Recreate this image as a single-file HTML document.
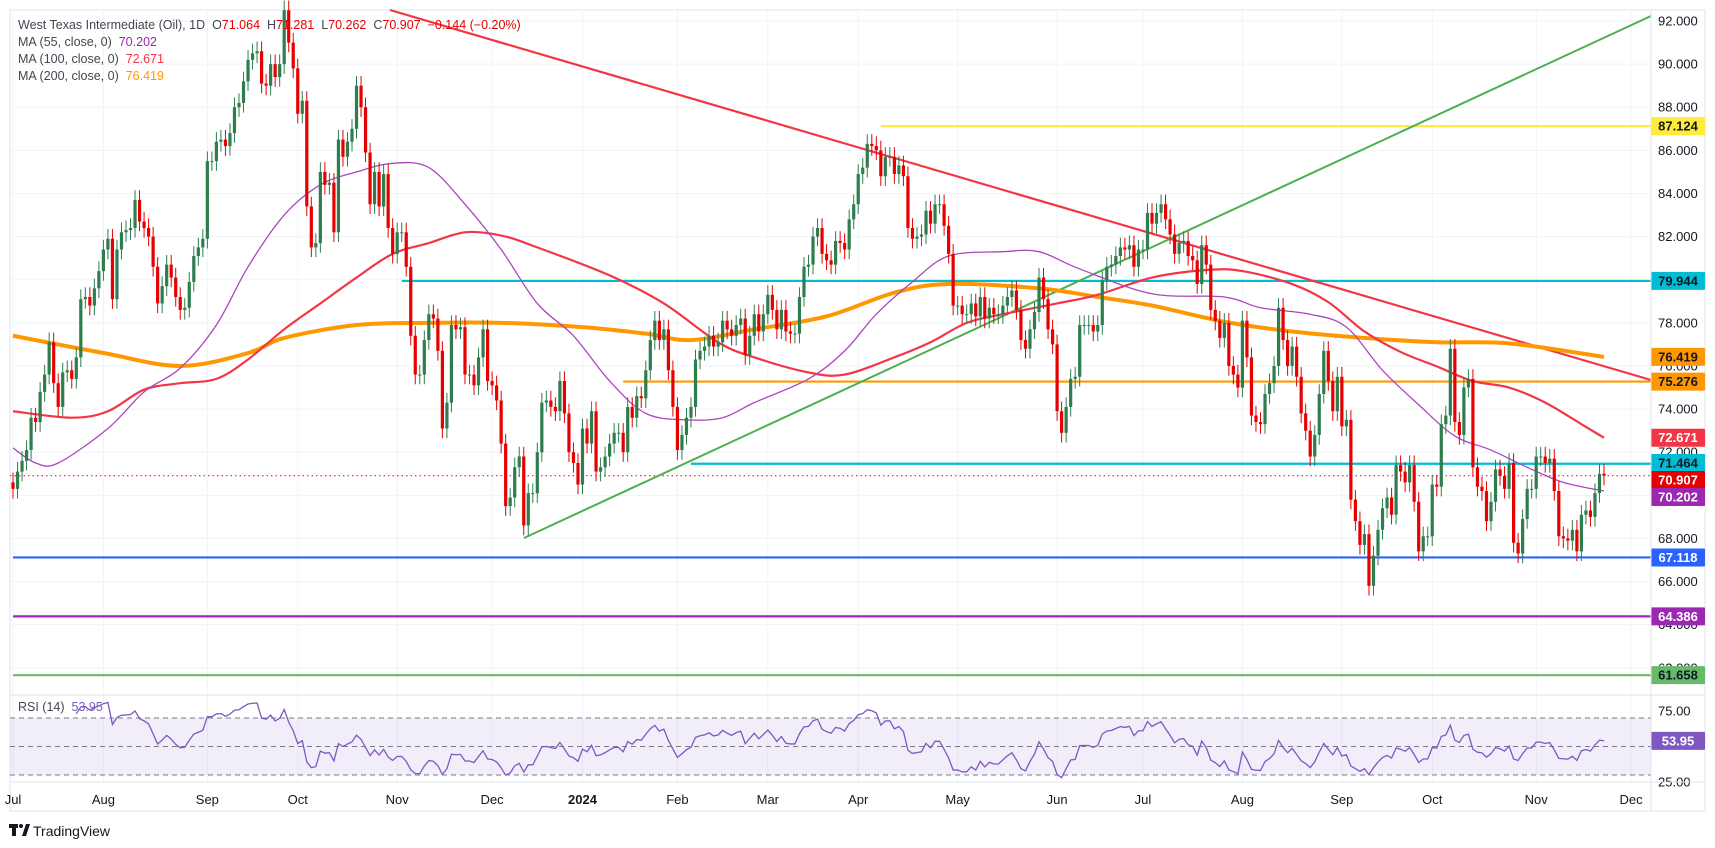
<!DOCTYPE html>
<html><head><meta charset="utf-8"><style>
html,body{margin:0;padding:0;background:#fff;}
svg{display:block;font-family:"Liberation Sans",sans-serif;}
</style></head><body>
<svg id="chart" width="1715" height="848" viewBox="0 0 1715 848" xmlns="http://www.w3.org/2000/svg">
<rect x="0" y="0" width="1715" height="848" fill="#ffffff"/>
<rect x="10" y="10" width="1695" height="801" fill="#fff" stroke="#e0e3eb" stroke-width="1"/>
<g id="grid"></g>
<rect x="10" y="718" width="1641" height="57" fill="rgba(126,87,194,0.1)"/>
<g id="levels"></g>
<g id="mas"></g>
<g id="candles"></g>
<g id="rsi"></g>
<g id="axis"></g>
<g id="labels"></g>
<line x1="10" y1="695" x2="1705" y2="695" stroke="#e0e3eb"/>
<line x1="10" y1="782" x2="1705" y2="782" stroke="#e0e3eb"/>
<line x1="1651" y1="10" x2="1651" y2="811" stroke="#e0e3eb"/>
<g font-size="12.5">
<text x="18" y="29" fill="#434651" xml:space="preserve">West Texas Intermediate (Oil), 1D  <tspan>O</tspan><tspan fill="#e60000">71.064</tspan>  <tspan>H</tspan><tspan fill="#e60000">71.281</tspan>  <tspan>L</tspan><tspan fill="#e60000">70.262</tspan>  <tspan>C</tspan><tspan fill="#e60000">70.907</tspan>  <tspan fill="#e60000">−0.144 (−0.20%)</tspan></text>
<text x="18" y="46" fill="#434651" xml:space="preserve">MA (55, close, 0)  <tspan fill="#9c27b0">70.202</tspan></text>
<text x="18" y="63" fill="#434651" xml:space="preserve">MA (100, close, 0)  <tspan fill="#f23645">72.671</tspan></text>
<text x="18" y="80" fill="#434651" xml:space="preserve">MA (200, close, 0)  <tspan fill="#ff9800">76.419</tspan></text>
<text x="18" y="711" fill="#434651" xml:space="preserve">RSI (14)  <tspan fill="#7e57c2">53.95</tspan></text>
</g>
<g>
<rect x="9" y="824" width="9" height="4" fill="#131722"/>
<rect x="12" y="824" width="4" height="12" fill="#131722"/>
<circle cx="21" cy="826" r="2" fill="#131722"/>
<polygon points="22,836 26,824 30,824 26,836" fill="#131722"/>
<text x="33" y="836" font-size="14" fill="#131722">TradingView</text>
</g>
</svg>
<script>
const closes=[70.3,71.1,71.6,72.1,73.6,73.4,74.8,75.6,77.1,75.2,74.1,75.7,75.8,75.4,76.4,79.1,79.2,78.8,79.6,80.4,
81.4,81.9,79.1,81.4,82.2,82.3,82.4,83.7,82.7,82.4,82.0,80.6,78.9,79.7,80.7,80.1,79.2,78.6,78.7,79.9,81.1,81.5,81.9,
85.5,85.5,86.4,86.5,86.2,86.8,88.0,88.2,89.2,90.2,90.5,90.6,89.1,89.0,90.0,89.4,90.0,92.5,91.0,89.8,
87.7,88.3,83.4,81.5,81.7,85.0,84.4,84.5,82.2,86.5,85.7,86.4,87.0,89.0,88.0,85.9,83.5,85.0,83.4,84.9,82.4,81.2,
82.2,82.2,80.6,77.4,75.6,75.6,77.2,78.4,78.2,76.7,73.1,74.3,77.9,77.7,77.8,75.6,75.6,75.1,76.4,77.7,75.3,
75.1,74.4,72.4,69.5,69.9,71.3,71.8,68.6,70.1,70.1,72.0,
74.3,74.4,74.1,73.9,75.3,73.8,72.0,71.5,70.5,73.1,72.4,73.9,71.1,71.3,71.8,72.4,72.9,72.9,72.0,74.1,73.6,74.6,74.5,75.8,77.2,78.1,77.2,
77.7,75.8,74.1,72.1,72.8,73.6,74.1,76.3,76.7,76.9,77.4,76.9,77.1,78.1,77.7,77.4,77.9,78.2,76.5,77.4,78.4,77.6,78.4,79.3,78.6,77.7,78.6,
77.6,77.5,77.5,79.2,80.6,80.7,82.0,82.4,81.2,80.9,80.7,81.8,81.7,81.4,82.8,83.5,84.9,85.2,86.3,86.2,86.0,84.8,85.7,85.7,84.9,85.3,84.8,
82.4,81.9,82.0,82.1,83.2,82.6,83.5,83.5,82.5,81.2,78.8,78.8,78.4,78.4,78.9,78.3,79.2,78.2,78.7,78.4,78.4,78.8,79.2,79.5,78.6,77.2,76.8,
77.7,78.5,80.1,79.1,77.7,77.0,73.9,72.9,74.1,75.4,75.5,77.9,77.9,77.9,77.6,77.9,
79.96,80.6,80.7,81.1,81.5,81.4,81.6,80.6,81.4,81.4,83.1,82.6,83.1,83.5,82.8,82.1,81.2,81.7,81.8,81.1,
80.9,79.8,81.6,80.7,78.6,78.1,77.3,78.0,76.0,75.6,75.0,78.1,76.4,73.7,73.4,73.3,74.7,75.2,76.0,
78.7,77.2,76.0,76.9,75.5,73.8,73.0,71.8,72.8,74.7,76.7,75.3,73.9,75.5,73.2,73.5,69.8,68.8,67.7,
68.2,65.8,67.2,68.4,69.4,69.9,69.1,71.4,71.1,70.6,71.4,69.7,67.4,68.1,68.1,70.5,70.4,73.3,73.7,
76.8,73.4,72.8,75.0,75.4,71.3,70.4,70.2,68.8,69.7,71.2,70.9,70.3,71.5,67.8,67.3,68.9,70.3,70.3,
71.8,71.8,71.5,71.7,70.2,68.1,68.0,67.9,68.4,67.4,69.1,69.3,69.0,70.1,71.0,70.907];
const firstOpen=70.6;
const ma200Idx=[0,20,37,52,60,76,92,108,126,140,150,164,180,195,207,227,240,252,268,283,299,315,331,352];
const ma200Val=[77.4,76.6,76.0,76.6,77.3,77.9,78.0,78.0,77.8,77.5,77.2,77.7,78.3,79.4,79.8,79.6,79.2,78.8,78.05,77.6,77.3,77.1,77.05,76.42];
const ma100Idx=[0,13,21,29,37,45,52,60,68,76,84,92,100,108,116,132,144,156,164,176,184,195,203,211,219,231,240,252,264,272,283,291,299,307,315,323,331,339,347,352];
const ma100Val=[73.9,73.6,73.9,74.9,75.2,75.4,76.3,77.7,78.9,80.1,81.2,81.7,82.2,82.05,81.5,80.2,78.9,77.1,76.4,75.7,75.6,76.4,77.1,78.0,78.4,78.9,79.3,80.1,80.45,80.4,79.8,78.96,77.6,76.65,75.98,75.3,75.0,74.3,73.3,72.67];
const ma55Idx=[0,5,10,21,29,37,45,52,60,68,76,84,92,100,108,116,124,132,140,149,157,164,176,184,191,199,207,219,227,236,252,268,276,287,295,303,311,319,327,335,343,352];
const ma55Val=[72.2,71.5,71.5,73.1,74.8,75.9,77.9,80.6,83.0,84.4,85.0,85.4,85.2,83.5,81.4,78.9,77.4,75.3,73.8,73.5,73.6,74.3,75.4,76.7,78.4,79.9,81.1,81.3,81.3,80.5,79.35,79.2,78.7,78.4,77.8,75.8,74.2,72.75,72.1,71.3,70.6,70.2];
const priceTicks=[92,90,88,86,84,82,80,78,76,74,72,70,68,66,64,62];
const monthNames=["Jul","Aug","Sep","Oct","Nov","Dec","2024","Feb","Mar","Apr","May","Jun","Jul","Aug","Sep","Oct","Nov","Dec"];
const monthIdx=[0,20,43,63,85,106,126,147,167,187,209,231,250,272,294,314,337,358];
const hLevels=[87.124,79.944,75.276,71.464,67.118,64.386,61.658];
const hLevelStart=[192,86,135,150,0,0,0];
const rsiTicks=[75,25];

const NS="http://www.w3.org/2000/svg";
const N=closes.length;
const step=1591/(N-1);
function xOf(i){return 13+i*step;}
function yOf(p){return 21+(92-p)*21.56;}
function yR(r){return 746.5-(r-50)*1.425;}
function mk(tag,attrs,parent){const e=document.createElementNS(NS,tag);for(const k in attrs)e.setAttribute(k,attrs[k]);parent.appendChild(e);return e;}
const G=id=>document.getElementById(id);

for(const t of priceTicks){const l=mk('line',{x1:10,x2:1651,y1:yOf(t),y2:yOf(t),stroke:'#f0f3fa'},G('grid'));

}
monthIdx.forEach((mi,k)=>{const x=xOf(mi);
const l=mk('line',{x1:x,x2:x,y1:10,y2:782,stroke:'#f0f3fa'},G('grid'));


const t=mk('text',{x:x,y:804,'text-anchor':'middle','font-size':13,fill:'#131722','font-weight':monthNames[k]==='2024'?'bold':'normal'},G('axis'));
t.textContent=monthNames[k];

});

const lvlColors=['#ffeb3b','#00bcd4','#ff9800','#00bcd4','#2962ff','#9c27b0','#66bb6a'];
hLevels.forEach((v,k)=>{const l=mk('line',{x1:xOf(hLevelStart[k]),x2:1651,y1:yOf(v),y2:yOf(v),stroke:lvlColors[k],'stroke-width':2.2},G('levels'));

});
const last=closes[N-1];
const dl=mk('line',{x1:10,x2:1651,y1:yOf(last),y2:yOf(last),stroke:'#e60000','stroke-width':1,'stroke-dasharray':'1.5,3'},G('levels'));


const tr=mk('line',{x1:390,y1:10,x2:1651,y2:380,stroke:'#f23645','stroke-width':2.2},G('levels'));


const tg=mk('line',{x1:524,y1:538,x2:1651,y2:16,stroke:'#4caf50','stroke-width':2},G('levels'));



function smoothPath(idx,val,fy){const pts=idx.map((i,k)=>[xOf(i),fy(val[k])]);let d='M'+pts[0][0]+','+pts[0][1];
for(let k=0;k<pts.length-1;k++){const p0=pts[Math.max(0,k-1)],p1=pts[k],p2=pts[k+1],p3=pts[Math.min(pts.length-1,k+2)];
d+=' C'+(p1[0]+(p2[0]-p0[0])/6)+','+(p1[1]+(p2[1]-p0[1])/6)+' '+(p2[0]-(p3[0]-p1[0])/6)+','+(p2[1]-(p3[1]-p1[1])/6)+' '+p2[0]+','+p2[1];}return d;}
const m200=mk('path',{d:smoothPath(ma200Idx,ma200Val,yOf),fill:'none',stroke:'#ff9800','stroke-width':4},G('mas'));


const m100=mk('path',{d:smoothPath(ma100Idx,ma100Val,yOf),fill:'none',stroke:'#f23645','stroke-width':2.2},G('mas'));


const m55=mk('path',{d:smoothPath(ma55Idx,ma55Val,yOf),fill:'none',stroke:'#ab47bc','stroke-width':1.3},G('mas'));



for(let i=0;i<N;i++){const o=i?closes[i-1]:firstOpen,c=closes[i];const up=c>=o;const col=up?'#2e7d4f':'#e60000';
const x=xOf(i);const hi=Math.max(o,c)+0.45,lo=Math.min(o,c)-0.45;
const g=mk('g',{},G('candles'));


mk('line',{x1:x,x2:x,y1:yOf(hi),y2:yOf(lo),stroke:col,'stroke-width':1},g);
const top=yOf(Math.max(o,c));const h=Math.max(1,yOf(Math.min(o,c))-top);
mk('rect',{x:x-1.6,y:top,width:3.2,height:h,fill:col},g);}

for(const r of [70,50,30]){const l=mk('line',{x1:10,x2:1651,y1:yR(r),y2:yR(r),stroke:'#787b86','stroke-dasharray':'5,4','stroke-width':1},G('rsi'));

}
let ag=0,al=0;const rs=[];
for(let i=1;i<N;i++){const ch=closes[i]-closes[i-1];const g=Math.max(ch,0),l=Math.max(-ch,0);
if(i<=14){ag+=g/14;al+=l/14;}else{ag=(ag*13+g)/14;al=(al*13+l)/14;}
if(i>=14){rs.push([xOf(i),yR(100-100/(1+ag/(al||1e-6)))]);}}
const rl=mk('polyline',{points:rs.map(p=>p.join(',')).join(' '),fill:'none',stroke:'#7e57c2','stroke-width':1.3},G('rsi'));



for(const t of priceTicks){const tx=mk('text',{x:1658,y:yOf(t)+4.5,'font-size':13,fill:'#131722'},G('axis'));tx.textContent=t.toFixed(3);

}
for(const t of rsiTicks){const tx=mk('text',{x:1658,y:(t===75?711:782)+4.5,'font-size':13,fill:'#131722'},G('axis'));tx.textContent=t.toFixed(2);

}

const labelVals=["87.124","79.944","76.419","75.276","72.671","71.464","70.907","70.202","67.118","64.386","61.658","53.95"];
const labelY=[yOf(87.124),yOf(79.944),yOf(76.419),yOf(75.276),yOf(72.671),463,480,497,yOf(67.118),yOf(64.386),yOf(61.658),yR(53.95)];
const labelBg=['#ffeb3b','#00bcd4','#ff9800','#ff9800','#f23645','#00bcd4','#e60000','#9c27b0','#2962ff','#9c27b0','#66bb6a','#7e57c2'];
const labelFg=['#131722','#131722','#131722','#131722','#fff','#131722','#fff','#fff','#fff','#fff','#131722','#fff'];
labelVals.forEach((v,k)=>{const g=mk('g',{},G('labels'));


mk('rect',{x:1651,y:labelY[k]-9,width:54,height:18,fill:labelBg[k],rx:1},g);
const t=mk('text',{x:1678,y:labelY[k]+4.5,'text-anchor':'middle','font-size':13,'font-weight':'bold',fill:labelFg[k]},g);t.textContent=v;});
</script>
</body></html>
